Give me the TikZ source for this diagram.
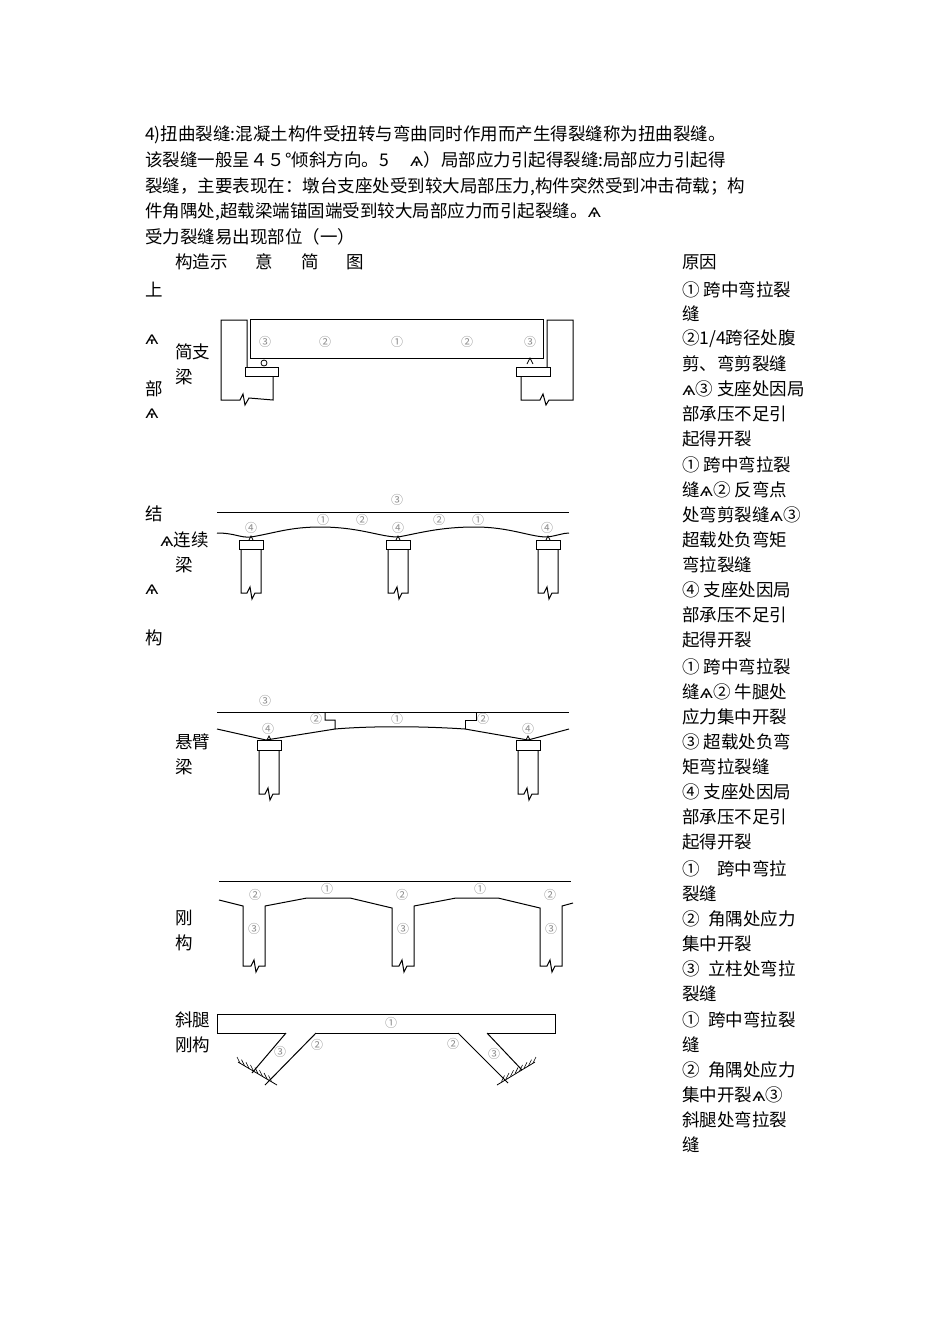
\documentclass[tikz,border=0pt]{standalone}
\usepackage{fontspec}
\newfontfamily\cjk{Noto Sans CJK SC}
\newfontfamily\dv{DejaVu Sans}
\newcommand{\qq}{{\dv ѧ}}
\tikzset{
 txt/.style={anchor=west,inner sep=0pt,font=\cjk\fontsize{17.5}{18}\selectfont},
 num/.style={inner sep=0pt,text=black!45,font=\cjk\fontsize{12}{12}\selectfont},
 ln/.style={line width=1pt,line join=miter}
}
\begin{document}
\begin{tikzpicture}[x=1pt,y=-1pt]
\useasboundingbox[fill=white] (0,0) rectangle (950,1344);
% paragraph
\node[txt] (t1) at (145,135) {4)扭曲裂缝:混凝土构件受扭转与弯曲同时作用而产生得裂缝称为扭曲裂缝。};
\node[txt] (t2) at (145,160) {该裂缝一般呈４５°倾斜方向。5\hspace{1.2em}\qq）局部应力引起得裂缝:局部应力引起得};
\node[txt] (t3) at (145,187) {裂缝，主要表现在：墩台支座处受到较大局部压力,构件突然受到冲击荷载；构};
\node[txt] (t4) at (145,212) {件角隅处,超载梁端锚固端受到较大局部应力而引起裂缝。\qq};
\node[txt] (t5) at (145,237) {受力裂缝易出现部位（一）};
\node[txt] (h1) at (175,262) {构造示\hspace{1.6em}意\hspace{1.6em}简\hspace{1.6em}图};
\node[txt] (h2) at (682,262) {原因};
% left column
\foreach \s/\x/\y [count=\i] in {上/145/290,\qq/145/340,简支/175/352,梁/175/377,部/145/389,\qq/145/414,结/145/514,\qq 连续/160/540,梁/175/565,\qq/145/590,构/145/638,悬臂/175/742,梁/175/767,刚/175/918,构/175/943,斜腿/175/1020,刚构/175/1045}
  \node[txt] (l\i) at (\x,\y) {\s};
% right column
\foreach \s/\y [count=\i] in {① 跨中弯拉裂/290,缝/314,{②1/4跨径处腹}/339,剪、弯剪裂缝/364,\qq③ 支座处因局/389,部承压不足引/414,起得开裂/439,
 ① 跨中弯拉裂/465,缝\qq② 反弯点/490,处弯剪裂缝\qq③/515,超载处负弯矩/540,弯拉裂缝/565,④ 支座处因局/590,部承压不足引/615,起得开裂/640,
 ① 跨中弯拉裂/667,缝\qq② 牛腿处/692,应力集中开裂/717,③ 超载处负弯/742,矩弯拉裂缝/767,④ 支座处因局/792,部承压不足引/817,起得开裂/842,
 ①\hspace{1em}跨中弯拉/869,裂缝/894,②\hspace{0.5em}角隅处应力/919,集中开裂/944,③\hspace{0.5em}立柱处弯拉/969,裂缝/994,
 ①\hspace{0.5em}跨中弯拉裂/1020,缝/1045,②\hspace{0.5em}角隅处应力/1070,集中开裂\qq③/1095,斜腿处弯拉裂/1120,缝/1145}
  \node[txt] (r\i) at (682,\y) {\s};

% ===== diagram 1: simply supported
\draw[ln] (247,367)--(247,320)--(221,320)--(221,400)--(240,400)--(243,394)--(245,405)--(249,398)--(273,400)--(273,376);
\draw[ln] (245,367) rectangle (278,376);
\draw[ln] (250,319) rectangle (543,358);
\draw[line width=0.8pt] (264,363) circle (3);
\draw[ln] (547,367)--(547,320)--(573,320)--(573,400)--(549,400)--(546,405)--(543,394)--(540,400)--(521,400)--(521,376);
\draw[ln] (516,367) rectangle (550,376);
\draw[line width=0.8pt] (527,364)--(530,358)--(533,364);
\foreach \n/\x in {③/265,②/325,①/397,②/467,③/530} \node[num] at (\x,342) {\n};

% ===== diagram 2: continuous
\draw[ln] (217,512)--(569,512);
\draw[ln] (217,533) .. controls (235,533) and (240,538) .. (251,537) .. controls (275,533) and (290,527) .. (320,527) .. controls (360,527) and (380,537) .. (398,537) .. controls (420,533) and (440,527) .. (475,527) .. controls (510,527) and (530,537) .. (547,537) .. controls (556,536) and (563,533) .. (569,533);
\foreach \x in {251,398,548}{
 \draw[ln] (\x-12,540) rectangle (\x+12,549);
 \draw[line width=0.7pt] (\x-2,540)--(\x,536)--(\x+2,540);
 \draw[ln] (\x-10,549)--(\x-10,593)--(\x-4,593)--(\x-1,587)--(\x+1,599)--(\x+4,593)--(\x+10,593)--(\x+10,549);
}
\node[num] at (397,500) {③};
\foreach \n/\x/\y in {④/251/528,①/323/520,②/362/520,④/398/528,②/439/520,①/478/520,④/547/528} \node[num] at (\x,\y) {\n};

% ===== diagram 3: cantilever
\draw[ln] (217,712)--(569,712);
\draw[ln] (217,729)--(266,740)--(335,729)--(335,720)--(325,720)--(325,712);
\draw[ln] (335,729) .. controls (370,726) and (420,726) .. (465,729);
\draw[ln] (465,729)--(465,720)--(476,720)--(476,712);
\draw[ln] (465,729)--(528,740)--(569,729);
\foreach \x in {269,528}{
 \draw[ln] (\x-12,740) rectangle (\x+12,750);
 \draw[line width=0.7pt] (\x-2,740)--(\x,736)--(\x+2,740);
 \draw[ln] (\x-10,750)--(\x-10,794)--(\x-4,794)--(\x-1,788)--(\x+1,800)--(\x+4,794)--(\x+10,794)--(\x+10,750);
}
\foreach \n/\x/\y in {③/265/701,②/316/719,①/397/719,②/483/719,④/268/729,④/528/729} \node[num] at (\x,\y) {\n};

% ===== diagram 4: rigid frame
\draw[ln] (219,881)--(571,881);
\draw[ln] (219,900)--(243,906)--(243,966)--(251,966)--(254,960)--(256,972)--(259,966)--(265,966)--(265,906)--(307,898)--(350,898)--(392,908)
 --(392,966)--(399,966)--(402,960)--(404,972)--(407,966)--(414,966)--(414,906)--(456,898)--(498,898)--(540,908)
 --(540,966)--(547,966)--(550,960)--(552,972)--(555,966)--(562,966)--(562,906)--(573,903);
\foreach \n/\x/\y in {②/255/895,①/327/889,②/402/895,①/480/889,②/550/895,③/254/929,③/403/929,③/551/929} \node[num] at (\x,\y) {\n};

% ===== diagram 5: slant-legged frame
\draw[ln] (286,1033)--(217,1033)--(217,1014)--(555,1014)--(555,1033)--(487,1033);
\draw[ln] (316,1033)--(458,1033);
\draw[ln] (286,1033)--(252,1073);
\draw[ln] (316,1033)--(265,1085);
\draw[ln] (487,1033)--(522,1070);
\draw[ln] (458,1033)--(508,1083);
\draw[line width=0.8pt] (238,1062)--(277,1085);
\foreach \t in {0,...,7} \draw[line width=0.6pt] (240+\t*4.5,1063+\t*2.65)--(237+\t*4.5,1057+\t*2.65);
\draw[line width=0.8pt] (535,1062)--(497,1085);
\foreach \t in {0,...,7} \draw[line width=0.6pt] (533-\t*4.5,1063+\t*2.65)--(536-\t*4.5,1057+\t*2.65);
\foreach \n/\x/\y in {①/391/1023,②/317/1045,③/280/1052,②/453/1044,③/494/1054} \node[num] at (\x,\y) {\n};
\end{tikzpicture}
\end{document}
